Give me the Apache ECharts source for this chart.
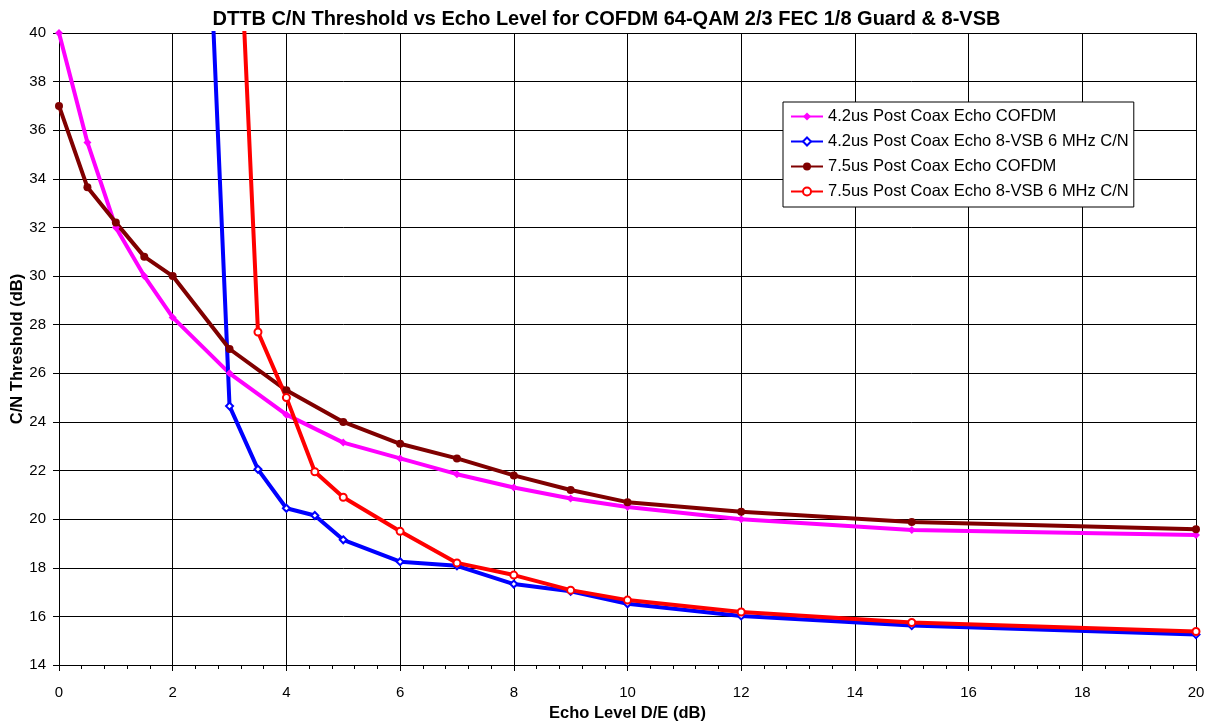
<!DOCTYPE html>
<html>
<head>
<meta charset="utf-8">
<script src="https://cdn.jsdelivr.net/npm/echarts@6/dist/echarts.min.js"></script>
<style>
  html, body { margin: 0; padding: 0; background: #fff; }
  #main { width: 1213px; height: 727px; }
</style>
</head>
<body>
<div id="main"></div>
<script>
// echo level (dB) for each curve
var xCofdm = [0, 0.5, 1, 1.5, 2, 3, 4, 5, 6, 7, 8, 9, 10, 12, 15, 20];
var xVsb42 = [2.5, 3, 3.5, 4, 4.5, 5, 6, 7, 8, 9, 10, 12, 15, 20];
var xVsb75 = [3, 3.5, 4, 4.5, 5, 6, 7, 8, 9, 10, 12, 15, 20];

// C/N threshold values (dB)
var cofdm42 = [40, 35.5, 32, 30, 28.3, 26, 24.3, 23.15, 22.5, 21.85, 21.3, 20.85, 20.5, 20, 19.55, 19.35];
var vsb42 = [52, 24.65, 22.05, 20.45, 20.15, 19.15, 18.25, 18.08, 17.33, 17.03, 16.52, 16.02, 15.62, 15.25];
var cofdm75 = [37, 33.65, 32.2, 30.8, 30, 27, 25.3, 24, 23.1, 22.5, 21.8, 21.2, 20.7, 20.3, 19.88, 19.58];
var vsb75 = [53.5, 27.7, 25, 21.95, 20.9, 19.5, 18.2, 17.7, 17.08, 16.67, 16.18, 15.75, 15.38];

var names = [
  '4.2us Post Coax Echo COFDM',
  '4.2us Post Coax Echo 8-VSB 6 MHz C/N',
  '7.5us Post Coax Echo COFDM',
  '7.5us Post Coax Echo 8-VSB 6 MHz C/N'
];

function pairs(xs, ys) {
  var out = [];
  for (var i = 0; i < xs.length; i++) {
    out.push([xs[i], ys[i]]);
  }
  return out;
}

var myChart = echarts.init(document.getElementById('main'));

myChart.setOption({
  animation: false,
  backgroundColor: '#fff',
  textStyle: { fontFamily: 'Liberation Sans, Arial, sans-serif' },
  title: {
    text: 'DTTB C/N Threshold vs Echo Level for COFDM 64-QAM 2/3 FEC 1/8 Guard & 8-VSB',
    left: 'center',
    top: 4,
    textStyle: { fontSize: 20, fontWeight: 'bold', color: '#000' }
  },
  legend: {
    orient: 'vertical',
    left: 783,
    top: 102,
    padding: [6, 5, 7, 7],
    itemGap: 8,
    itemWidth: 32,
    itemHeight: 10,
    backgroundColor: '#fff',
    borderColor: '#000',
    borderWidth: 1,
    borderRadius: 0,
    textStyle: { fontSize: 16.5, color: '#000' },
    data: names
  },
  grid: { left: 59, right: 17, top: 33, bottom: 62, outerBoundsMode: 'none' },
  xAxis: {
    type: 'value',
    min: 0,
    max: 20,
    interval: 2,
    name: 'Echo Level D/E (dB)',
    nameLocation: 'middle',
    nameGap: 40,
    nameMoveOverlap: false,
    nameTextStyle: { fontSize: 16.5, fontWeight: 'bold', color: '#000' },
    axisLine: { lineStyle: { color: '#000', width: 1 } },
    axisTick: { inside: false, length: 6, lineStyle: { color: '#000' } },
    minorTick: { show: true, splitNumber: 5, length: 4, lineStyle: { color: '#000' } },
    axisLabel: { fontSize: 15, color: '#000', margin: 20 },
    splitLine: { show: true, lineStyle: { color: '#000', width: 1 } }
  },
  yAxis: {
    type: 'value',
    min: 14,
    max: 40,
    interval: 2,
    name: 'C/N Threshold (dB)',
    nameLocation: 'middle',
    nameGap: 33,
    nameMoveOverlap: false,
    nameTextStyle: { fontSize: 16.5, fontWeight: 'bold', color: '#000' },
    axisLine: { show: true, lineStyle: { color: '#000', width: 1 } },
    axisTick: { show: true, inside: false, length: 6, lineStyle: { color: '#000' } },
    axisLabel: { fontSize: 15, color: '#000', margin: 13 },
    splitLine: { show: true, lineStyle: { color: '#000', width: 1 } }
  },
  series: [
    {
      name: names[0],
      type: 'line',
      data: pairs(xCofdm, cofdm42),
      symbol: 'diamond',
      symbolSize: 8,
      color: '#ff00ff',
      lineStyle: { width: 4 },
      clip: true
    },
    {
      name: names[1],
      type: 'line',
      data: pairs(xVsb42, vsb42),
      symbol: 'emptyDiamond',
      symbolSize: 7,
      color: '#0000ff',
      lineStyle: { width: 4 },
      clip: true
    },
    {
      name: names[2],
      type: 'line',
      data: pairs(xCofdm, cofdm75),
      symbol: 'circle',
      symbolSize: 8,
      color: '#800000',
      lineStyle: { width: 4 },
      clip: true
    },
    {
      name: names[3],
      type: 'line',
      data: pairs(xVsb75, vsb75),
      symbol: 'emptyCircle',
      symbolSize: 7,
      color: '#ff0000',
      lineStyle: { width: 4 },
      clip: true
    }
  ]
});
</script>
</body>
</html>
